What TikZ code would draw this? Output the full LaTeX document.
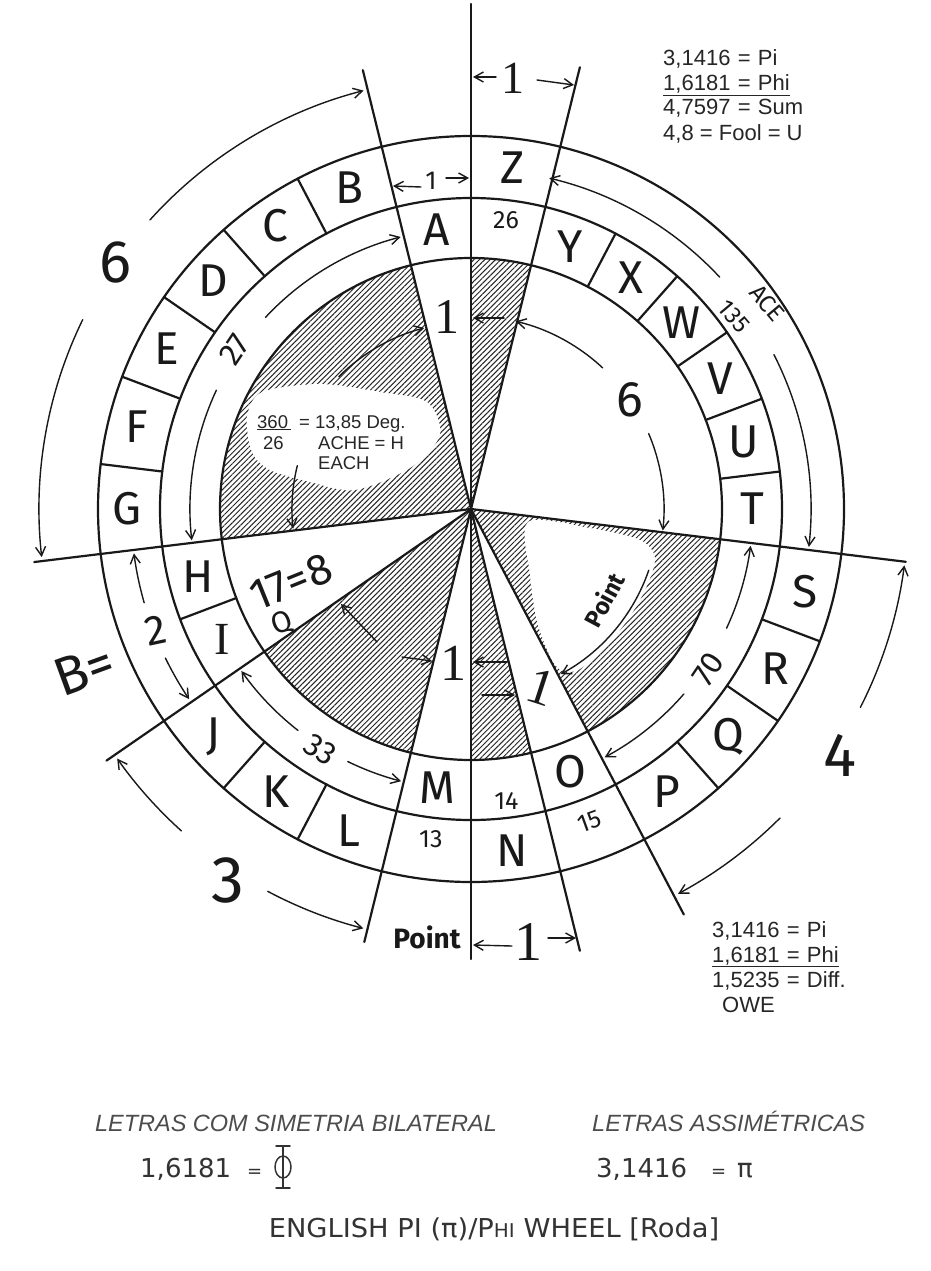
\documentclass[tikz,border=0pt]{standalone}
\usepackage{fontspec}
\setmainfont{Liberation Sans}
\newfontfamily\handfont{Fira Sans}
\newfontfamily\serfont{Liberation Serif}
\newfontfamily\comicfont{DejaVu Sans}
\usetikzlibrary{arrows.meta,patterns.meta}
\newcommand{\fsz}[1]{\fontsize{#1}{#1}\selectfont}
\newcommand{\darc}[3]{\draw[dimarrow] (#1:#3) arc[start angle=#1,end angle=#2,radius=#3];}
\tikzset{
 ink/.style={draw=black!90,line width=2.2pt},
 dimarrow/.style={draw=black!90,line width=1.4pt,-{Straight Barb[length=9pt,width=10pt]}},
 hatch/.style={pattern={Lines[angle=45,distance=3.8pt,line width=1pt]},pattern color=black!85},
 cloud/.style={fill=white,draw=none},
 letter/.style={font=\handfont\fsz{46},text=black!90,inner sep=0pt},
 cellnum/.style={font=\handfont\fsz{25},text=black!90,inner sep=0pt},
 hnum/.style={font=\handfont\fsz{#1},text=black!90,inner sep=0pt},
 one/.style={font=\serfont\fsz{#1},text=black!90,inner sep=0pt},
 printed/.style={font=\fsz{#1},text=black!85,inner sep=0pt,anchor=base west},
 comic/.style={font=\comicfont\fsz{#1},text=black!80,inner sep=0pt,anchor=base west},
}
\begin{document}
\begin{tikzpicture}[x=1pt,y=1pt,line cap=round,line join=round]
\useasboundingbox (0,0) rectangle (930,-1271);
\fill[white] (0,0) rectangle (930,-1271);
% hatched sectors
\begin{scope}[shift={(471,-509)}]
\foreach \a/\b in {103.846/186.923,76.154/90,297.692/353.077,270/283.846,214.615/256.154}
  \fill[hatch] (0,0) -- (\a:251) arc[start angle=\a,end angle=\b,radius=251] -- cycle;
\end{scope}
% white clouds inside hatching
\fill[cloud] plot[smooth cycle] coordinates {(247,-417) (262,-392) (320,-384) (380,-392) (427,-402) (440,-435) (410,-468) (355,-490) (310,-482) (270,-470) (252,-452)};
\fill[cloud] plot[smooth cycle] coordinates {(528,-522) (590,-528) (640,-540) (655,-560) (640,-600) (612,-640) (578,-670) (556,-666) (538,-625) (530,-575)};
\begin{scope}[shift={(471,-509)}]
% circles
\draw[ink] (0,0) circle[radius=373];
\draw[ink] (0,0) circle[radius=311];
\draw[ink] (0,0) circle[radius=251];
% spokes
\foreach \a/\R in {90/505,270/450,103.846/452,76.154/455,186.923/440,353.077/438,214.615/443,256.154/446,283.846/455,297.692/458}
  \draw[ink] (0,0) -- (\a:\R);
% cell dividers
\foreach \k in {2,3,4,5,6,10,11,16,17,18}
  \draw[ink] ({90+\k*360/26}:311) -- ({90+\k*360/26}:373);
\foreach \k in {8,20,21,22,23,24}
  \draw[ink] ({90+\k*360/26}:251) -- ({90+\k*360/26}:311);
% letters
\foreach \L/\k in {B/1,C/2,D/3,E/4,F/5,G/6,J/9,K/10,L/11,N/13,P/15,Q/16,R/17,S/18,Z/25}
  \node[letter] (o\L) at ({90+(\k+0.5)*360/26}:344) {\L};
\foreach \L/\k in {A/0,H/7,M/12,O/14,T/19,U/20,V/21,W/22,X/23,Y/24}
  \node[letter] (m\L) at ({90+(\k+0.5)*360/26}:281) {\L};
\node[letter,font=\serfont\fsz{46}] (mI) at ({90+8.5*360/26}:281) {I};
% numbers in cells
\node[cellnum] (n26) at (83.08:291) {26};
\node[cellnum] (n13) at (263.08:333) {13};
\node[cellnum] (n14) at (276.92:294) {14};
\node[cellnum,rotate=20] (n15) at (290.77:334) {15};
% dimension arcs
\darc{138}{104.4}{432}
\darc{154}{186.4}{432}
\darc{196}{187.5}{340}
\darc{206}{214}{340}
\darc{137}{104.5}{281}
\darc{155}{186.4}{281}
\darc{232}{215.2}{281}
\darc{244}{255.6}{281}
\darc{319}{298.3}{282}
\darc{335}{352.5}{282}
\darc{43}{76.7}{340}
\darc{27}{-6.4}{340}
\darc{47}{76.6}{193}
\darc{23}{-6.4}{193}
\darc{228}{215.2}{433}
\darc{242}{255.6}{433}
\darc{333}{352.6}{437}
\darc{315}{298.3}{437}
\darc{341}{298.5}{188}
\darc{135}{104.5}{187}
\darc{166}{186.3}{179}
% ring labels
\node[hnum=32,rotate=56] (t27) at (146:285) {27};
\node[hnum=32,rotate=-32] (t33) at (238:284) {33};
\node[hnum=32,rotate=56] (t70) at (326:286) {70};
\node[hnum=24,rotate=-50] (tace) at (34.8:361) {ACE};
\node[hnum=24,rotate=-50] (t135) at (36.2:326) {135};
\node[hnum=42,rotate=12] (t2) at (201:338) {2};
\node[hnum=50] (t6i) at (34.4:193) {6};
\end{scope}
% straight dimension arrows
\draw[dimarrow] (504,-318) -- (473,-318);
\draw[dimarrow] (377,-642) -- (341,-604);
\draw[dimarrow] (402,-657) -- (432,-661);
\draw[dimarrow] (507,-662) -- (473,-662);
\draw[dimarrow] (482,-695) -- (515,-695);
\draw[dimarrow] (496,-77) -- (473,-77);
\draw[dimarrow] (537,-80) -- (574,-85);
\draw[dimarrow] (512,-946) -- (473,-945);
\draw[dimarrow] (548,-938) -- (576,-938);
\draw[dimarrow] (421,-187) -- (393,-186);
\draw[dimarrow] (446,-178) -- (469,-178);
% ones
\node[one=50] (oneA) at (447,-317) {1};
\node[one=52] (oneM) at (453,-663) {1};
\node[one=52,rotate=-18] (oneO) at (541,-687) {1};
\node[one=46] (oneTop) at (513,-78) {1};
\node[one=56] (oneBot) at (528,-942) {1};
\node[hnum=26] (oneRing) at (431,-181) {1};
% big labels
\node[hnum=60] (big6) at (115,-262) {6};
\node[hnum=66] (big3) at (228,-880) {3};
\node[hnum=62] (big4) at (840,-755) {4};
\node[hnum=54,rotate=20] (bEq) at (84,-670) {B=};
\node[hnum=44,rotate=22] (t178) at (291,-582) {17=8};
\node[hnum=30,rotate=20] (tQ) at (282,-624) {Q};
\node[font=\handfont\bfseries\fsz{28},text=black!90,inner sep=0pt] (pt1) at (427,-937) {Point};
\node[font=\handfont\bfseries\fsz{24},text=black!90,inner sep=0pt,rotate=62] (pt2) at (604,-600) {Point};
% cloud text
\node[printed=18.5] (c1a) at (257,-428) {\underline{360\,}};
\node[printed=18.5] (c1b) at (299,-428) {= 13,85 Deg.};
\node[printed=18.5] (c2) at (263,-449) {26};
\node[printed=18.5] (c3) at (318,-449) {ACHE = H};
\node[printed=18.5] (c4) at (318,-469) {EACH};
% printed notes
\node[printed=22] (p1) at (663,-66) {3,1416\,\,=\,\,Pi};
\node[printed=22] (p2) at (663,-91) {\underline{1,6181\,\,=\,\,Phi}};
\node[printed=22] (p3) at (663,-115) {4,7597\,\,=\,\,Sum};
\node[printed=22] (p4) at (663,-141) {4,8 = Fool = U};
\node[printed=22] (q1) at (712,-937) {3,1416\,\,=\,\,Pi};
\node[printed=22] (q2) at (712,-962) {\underline{1,6181\,\,=\,\,Phi}};
\node[printed=22] (q3) at (712,-987) {1,5235\,\,=\,\,Diff.};
\node[printed=22] (q4) at (722,-1012) {OWE};
% bottom texts
\node[font=\itshape\fsz{23.5},text=black!70,inner sep=0pt,anchor=base east] (lt1) at (497,-1131) {LETRAS COM SIMETRIA BILATERAL};
\node[font=\itshape\fsz{23.5},text=black!70,inner sep=0pt,anchor=base west] (lt2) at (592,-1131) {LETRAS ASSIMÉTRICAS};
\node[comic=26] (v1) at (140,-1177) {1,6181};
\node[comic=18] (v1e) at (247,-1177) {=};
\draw[draw=black!80,line width=1.5pt] (283,-1167) ellipse[x radius=8,y radius=11];
\draw[draw=black!80,line width=1.5pt] (283,-1146) -- (283,-1188) (276,-1146) -- (290,-1146) (276,-1188) -- (290,-1188);
\node[comic=26] (v2) at (596,-1177) {3,1416};
\node[comic=18] (v2e) at (711,-1177) {=};
\node[comic=26] (v2p) at (737,-1177) {π};
\node[font=\comicfont\fsz{26},text=black!80,inner sep=0pt,anchor=base] (title) at (494,-1237) {\scalebox{1.05}[1]{ENGLISH PI (π)/P{\fsz{19}HI} WHEEL [Roda]}};
\end{tikzpicture}
\end{document}
